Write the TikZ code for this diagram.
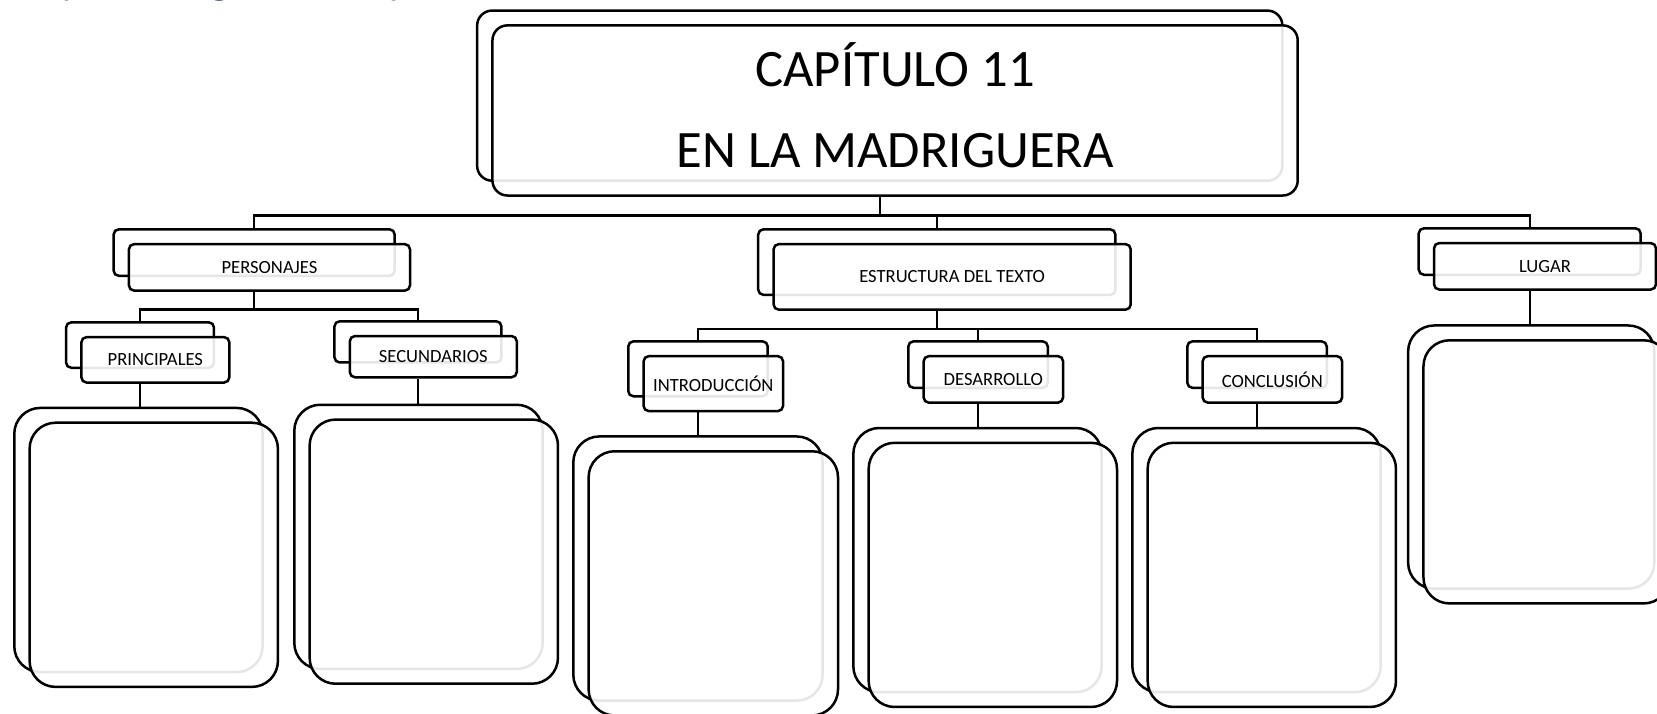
\documentclass[tikz,border=0pt]{standalone}
\usepackage{fontspec}
\setmainfont{Carlito}
\usetikzlibrary{calc}
\definecolor{headblue}{HTML}{44546A}
\newcommand{\px}{0.5284pt}
% #1 name, #2 cx, #3 cy (front box centre), #4 width, #5 height, #6 corner radius, #7 style, #8 text
\newcommand{\boxpair}[8]{%
  \node[backbox, rounded corners=#6, minimum width=#4*\px, minimum height=#5*\px] (#1b) at (#2-14.5,#3-14) {};
  \node[frontbox, rounded corners=#6, minimum width=#4*\px, minimum height=#5*\px, #7] (#1) at (#2,#3) {#8};
}
\begin{document}
\begin{tikzpicture}[x=0.5284pt, y=-0.5284pt,
  backbox/.style={rectangle, draw=black, line width=1.25pt, fill=white, inner sep=0pt},
  frontbox/.style={rectangle, draw=black, line width=1.25pt, fill=white, fill opacity=0.9, text opacity=1, inner sep=0pt, align=center},
  link/.style={draw=black, line width=1.15pt},
  lbl/.style={font=\fontsize{9.3}{11}\selectfont},
  ttl/.style={font=\fontsize{26.3}{40.7}\selectfont},
  headtxt/.style={text=headblue, inner sep=0pt, font=\fontsize{20}{24}\selectfont}]
\useasboundingbox (0,0) rectangle (1568,675);
\clip (0,0) rectangle (1568,675);
\fill[white] (0,0) rectangle (1568,675);

% clipped heading fragments
\node[headtxt, anchor=base west] (hp1) at (58.5,-5) {p};
\node[headtxt, anchor=base] (hg) at (208,-5) {g};
\node[headtxt, anchor=base west] (hp2) at (368,-5) {p};

% title
\boxpair{title}{847}{104.5}{762}{161}{7.5pt}{ttl}{CAPÍTULO 11\\EN LA MADRIGUERA\\[-35pt]\mbox{}}

% level 1
\boxpair{pers}{255}{253}{266}{44}{2.6pt}{lbl}{PERSONAJES}
\boxpair{est}{901}{262}{338}{62}{2.6pt}{lbl}{ESTRUCTURA DEL TEXTO}
\boxpair{lug}{1462}{252}{210}{44}{2.6pt}{lbl}{LUGAR}

% level 2
\boxpair{prin}{147}{340.5}{140}{43}{2.6pt}{lbl}{PRINCIPALES}
\boxpair{sec}{410}{337.5}{158}{39}{2.6pt}{lbl}{SECUNDARIOS}
\boxpair{intro}{675}{363}{132}{52}{2.6pt}{lbl}{INTRODUCCIÓN}
\boxpair{des}{940}{359}{132}{44}{2.6pt}{lbl}{DESARROLLO}
\boxpair{conc}{1204}{359}{132}{44}{2.6pt}{lbl}{CONCLUSIÓN}

% big empty boxes
\boxpair{bp}{145.5}{525}{235}{250}{13pt}{}{}
\boxpair{bs}{410.5}{522}{235}{250}{13pt}{}{}
\boxpair{bi}{675}{552}{236}{250}{13pt}{}{}
\boxpair{bd}{939.5}{544}{235}{250}{13pt}{}{}
\boxpair{bc}{1203.5}{544}{235}{250}{13pt}{}{}
\boxpair{bl}{1463.5}{446.5}{233}{249}{13pt}{}{}

% junctions
\coordinate (tj) at (832.5,204);
\coordinate (pj) at (240.5,293);
\coordinate (ej) at (886.5,311);

% connectors
\draw[link] (titleb |- title.south) -- (tj);
\draw[link] (tj) -| (persb.north);
\draw[link] (tj) -| (estb.north);
\draw[link] (tj) -| (lugb.north);

\draw[link] (persb |- pers.south) -- (pj);
\draw[link] (pj) -| (prinb.north);
\draw[link] (pj) -| (secb.north);

\draw[link] (estb |- est.south) -- (ej);
\draw[link] (ej) -| (introb.north);
\draw[link] (ej) -| (desb.north);
\draw[link] (ej) -| (concb.north);

\draw[link] (prinb |- prin.south) -- (prinb |- bpb.north);
\draw[link] (secb |- sec.south) -- (secb |- bsb.north);
\draw[link] (introb |- intro.south) -- (introb |- bib.north);
\draw[link] (desb |- des.south) -- (desb |- bdb.north);
\draw[link] (concb |- conc.south) -- (concb |- bcb.north);
\draw[link] (lugb |- lug.south) -- (lugb |- blb.north);
\end{tikzpicture}
\end{document}
